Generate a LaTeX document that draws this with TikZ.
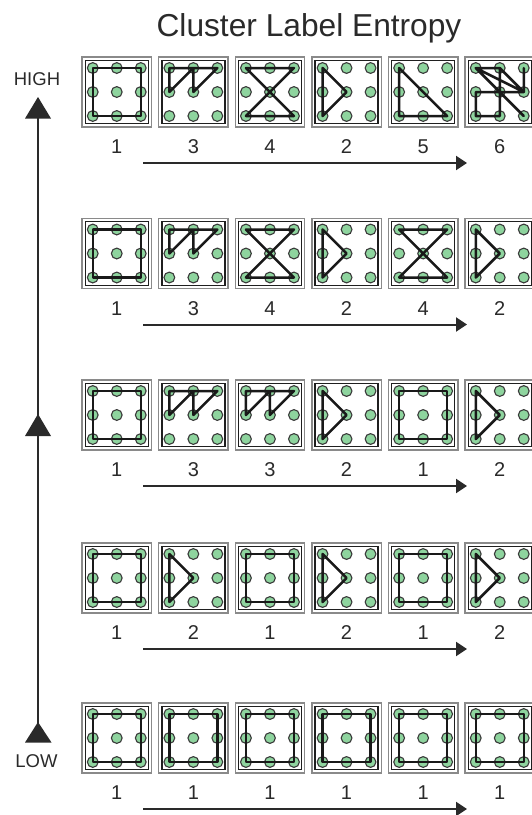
\documentclass[tikz,border=0pt]{standalone}
\usepackage{fontspec}
\setmainfont{Liberation Sans}
\usetikzlibrary{arrows.meta}
\definecolor{dotgreen}{HTML}{8ED49E}
\definecolor{dotedge}{HTML}{3A3A3A}
\definecolor{tilegray}{HTML}{8A8A8A}
\definecolor{txt}{HTML}{2A2A2A}
\tikzset{
  tilebox/.style={draw=tilegray, line width=1.4pt, minimum width=69.5pt, minimum height=70pt, inner sep=0pt},
  innerbox/.style={draw=black!88, line width=1.4pt},
  gdot/.style={fill=dotgreen, draw=dotedge, line width=1.1pt},
  patline/.style={draw=black!90, line width=2.5pt, line join=round, line cap=round},
  numlabel/.style={font=\fontsize{20}{24}\selectfont, text=txt, inner sep=0pt},
  axislabel/.style={font=\fontsize{18.5}{22}\selectfont, text=txt, inner sep=0pt},
  harrow/.style={draw=txt, line width=2pt, -{Triangle[length=11pt,width=14pt]}},
  vaxis/.style={draw=txt, line width=2pt},
}
\newcommand\tilepattern[1]{%
  \ifcase#1\or
    \draw[patline] (-24,-24) rectangle (24,24);\or
    \draw[patline] (-24,-24)--(0,0)--(-24,24)--cycle;\or
    \draw[patline] (0,0)--(0,-24)--(-24,0)--(-24,-24)--(24,-24)--cycle;\or
    \draw[patline] (-24,-24)--(24,-24)--(-24,24)--(24,24)--cycle;\or
    \draw[patline] (-24,-24)--(24,24)--(-24,24)--cycle;\or
    \draw[patline] (-24,-24)--(24,24) (-24,-24)--(24,0)--(0,-24) (24,-24)--(24,0)--(-24,0)--(-24,24)--(0,24)--(0,-24)--(-24,-24);%
  \fi}
\begin{document}
\begin{tikzpicture}[x=1pt,y=-1pt]
\useasboundingbox (0,0) rectangle (532,815);
\clip (0,0) rectangle (532,815);
\fill[white] (0,0) rectangle (532,815);
\node[font=\fontsize{31.7}{36}\selectfont, text=txt, anchor=base, inner sep=0pt] (title) at (309,36) {Cluster Label Entropy};
% vertical axis
\coordinate (vb) at (38,723);
\coordinate (vt) at (38,118);
\draw[vaxis] (vb) -- (vt);
\fill[txt] (38,97) -- (25,118.5) -- (51,118.5) -- cycle;
\fill[txt] (38,414) -- (25,436) -- (51,436) -- cycle;
\fill[txt] (38,722) -- (25,742.5) -- (51.5,742.5) -- cycle;
\node[axislabel, anchor=base] (high) at (37,85) {HIGH};
\node[axislabel, anchor=base] (low) at (36.5,767) {LOW};
% rows
\foreach \r/\T/\pats in {1/57/{1,3,4,2,5,6}, 2/218.5/{1,3,4,2,4,2}, 3/380/{1,3,3,2,1,2}, 4/543/{1,2,1,2,1,2}, 5/703/{1,1,1,1,1,1}}{
  \foreach \p [count=\c from 0] in \pats {
    \pgfmathsetmacro\L{82+76.6*\c}
    \begin{scope}[shift={(\L+34.75,\T+35)}]
      \node[tilebox] (t-\r-\c) at (0,0) {};
      \draw[innerbox] (-31.5,-31.75) rectangle (31.5,31.75);
      \foreach \dx in {-24,0,24}{\foreach \dy in {-24,0,24}{
        \draw[gdot] (\dx,\dy) circle (5.4pt);}}
      \tilepattern{\p}
      \node[numlabel, anchor=base] (n-\r-\c) at (0,61.5) {\p};
    \end{scope}
  }
  \coordinate (as-\r) at (143,\T+106);
  \coordinate (ae-\r) at (467,\T+106);
  \draw[harrow] (as-\r) -- (ae-\r);
}
\end{tikzpicture}
\end{document}
